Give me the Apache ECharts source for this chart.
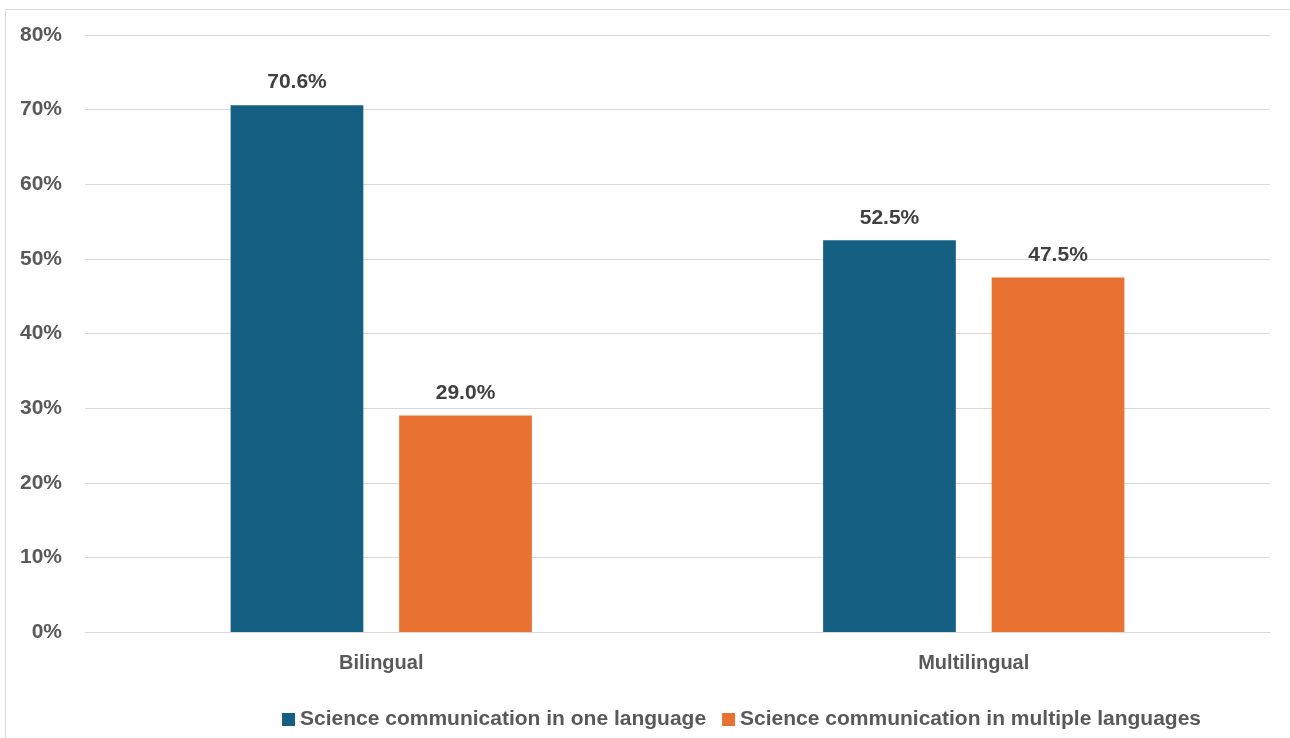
<!DOCTYPE html>
<html>
<head>
<meta charset="utf-8">
<script src="https://cdn.jsdelivr.net/npm/echarts@6/dist/echarts.min.js"></script>
<style>
    html, body { margin: 0; padding: 0; background: #fff; }
    #chart { width: 1290px; height: 738px; }
</style>
</head>
<body>
<div id="chart"></div>
<script>
const categories = ['Bilingual', 'Multilingual'];
const oneLanguage = [70.6, 52.5];
const multipleLanguages = [29.0, 47.5];
const seriesNames = ['Science communication in one language', 'Science communication in multiple languages'];

const FONT = '"Liberation Sans", Arial, sans-serif';
const myChart = echarts.init(document.getElementById('chart'));

const labelStyle = {
    show: true,
    position: 'top',
    distance: 12,
    fontFamily: FONT,
    fontSize: 21,
    fontWeight: 'bold',
    color: '#404040',
    formatter: p => p.value.toFixed(1) + '%'
};

const option = {
    animation: false,
    graphic: [{
        type: 'rect',
        shape: { x: 5.5, y: 9.5, width: 1400, height: 800 },
        style: { fill: 'none', stroke: '#d9d9d9', lineWidth: 1 },
        silent: true
    }],
    grid: {
        left: 85,
        right: 20,
        top: 35,
        bottom: 106,
        containLabel: false
    },
    legend: {
        left: 277,
        top: 704,
        itemWidth: 13,
        itemHeight: 13,
        itemGap: 16,
        icon: 'rect',
        textStyle: {
            fontFamily: FONT,
            fontSize: 21,
            fontWeight: 'bold',
            color: '#595959'
        },
        data: seriesNames
    },
    xAxis: {
        type: 'category',
        data: categories,
        axisLine: { lineStyle: { color: '#d9d9d9', width: 1 } },
        axisTick: { show: false },
        axisLabel: {
            margin: 21,
            fontFamily: FONT,
            fontSize: 20,
            fontWeight: 'bold',
            color: '#595959'
        }
    },
    yAxis: {
        type: 'value',
        min: 0,
        max: 80,
        interval: 10,
        axisLine: { show: false },
        axisTick: { show: false },
        splitLine: { lineStyle: { color: '#d9d9d9', width: 1 } },
        axisLabel: {
            margin: 23,
            fontFamily: FONT,
            fontSize: 21,
            fontWeight: 'bold',
            color: '#595959',
            formatter: '{value}%'
        }
    },
    series: [
        {
            name: seriesNames[0],
            type: 'bar',
            data: oneLanguage,
            barWidth: '22.4%',
            barGap: '27%',
            itemStyle: { color: '#156082' },
            label: labelStyle
        },
        {
            name: seriesNames[1],
            type: 'bar',
            data: multipleLanguages,
            barWidth: '22.4%',
            barGap: '27%',
            itemStyle: { color: '#E97132' },
            label: labelStyle
        }
    ]
};

myChart.setOption(option);
</script>
</body>
</html>
